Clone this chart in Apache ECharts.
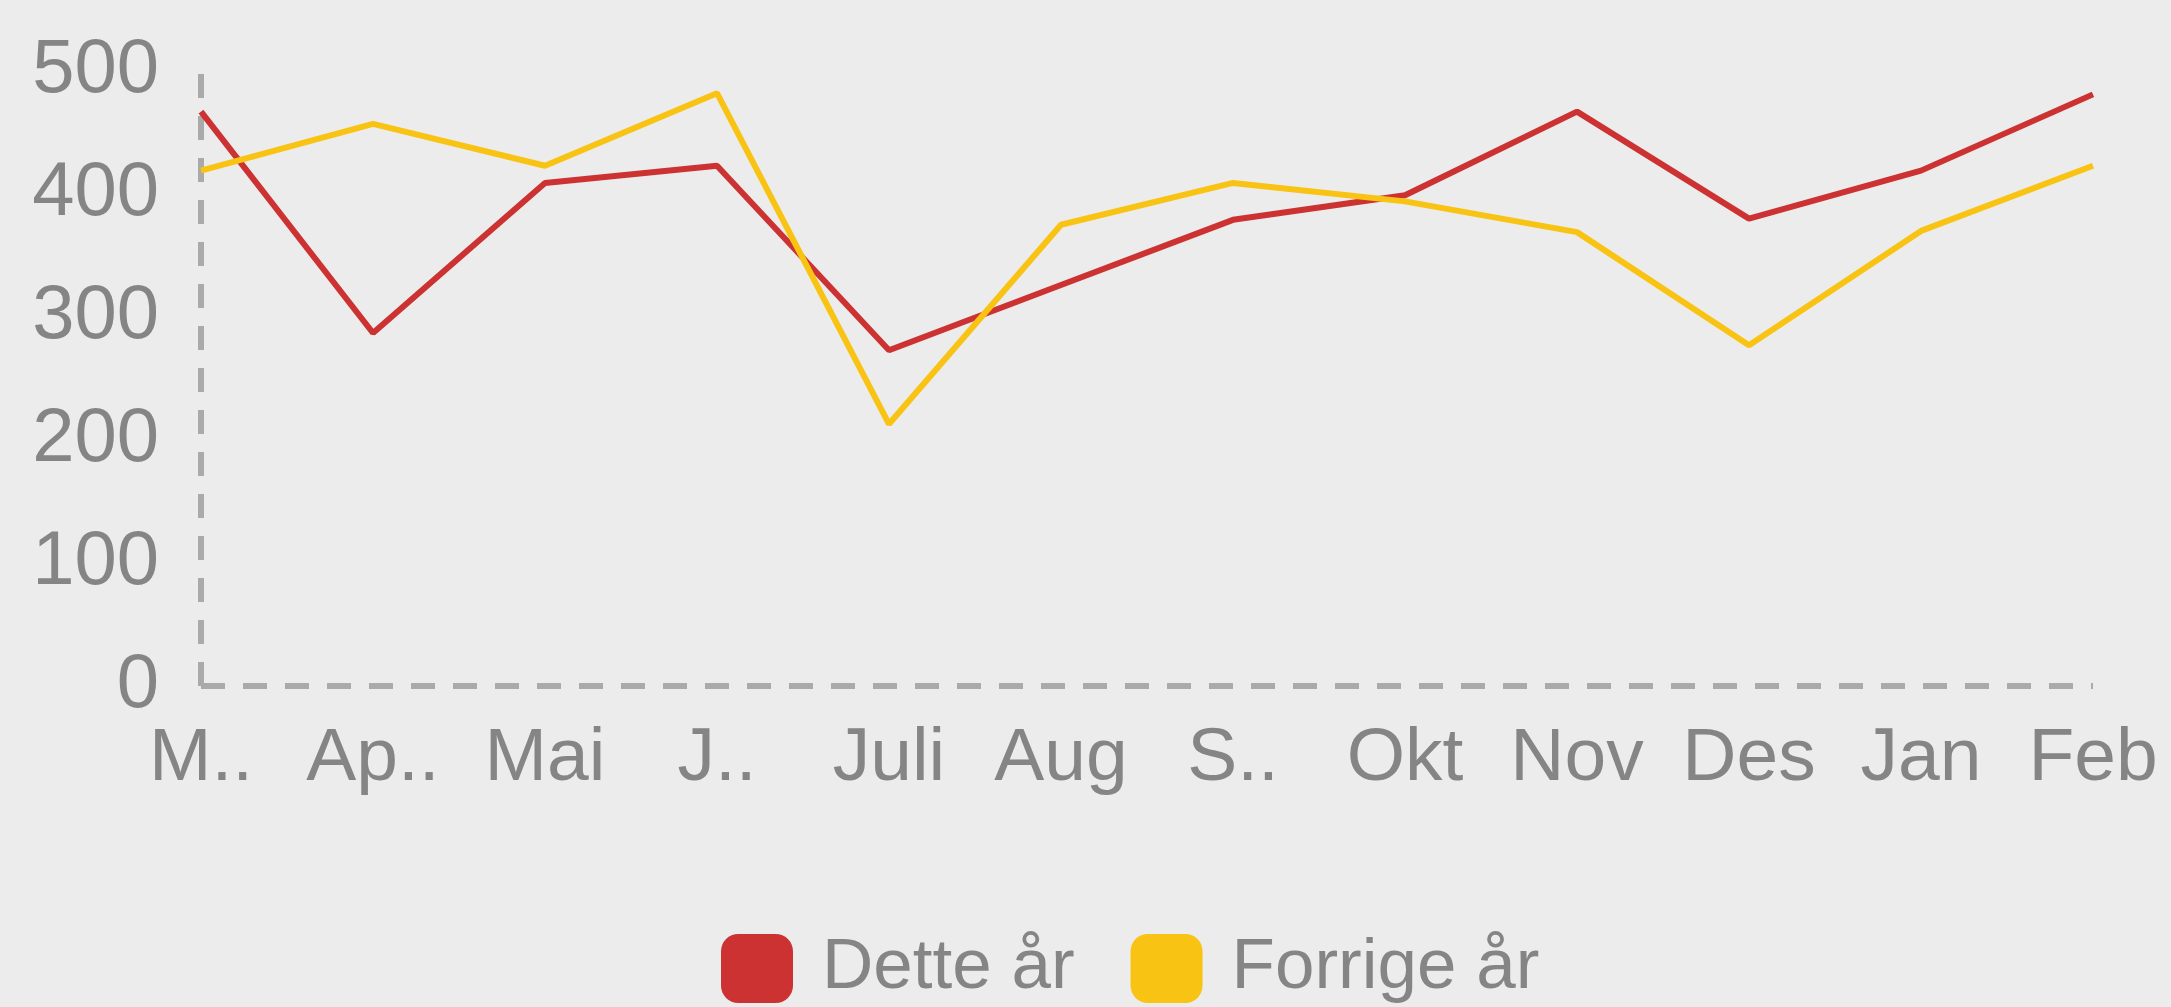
<!DOCTYPE html>
<html>
<head>
<meta charset="utf-8">
<title>Dette år / Forrige år</title>
<style>
    html, body { margin: 0; padding: 0; background: #ececec; }
    #chart { width: 2171px; height: 1007px; }
</style>
<script src="https://cdn.jsdelivr.net/npm/echarts@6.0.0/dist/echarts.min.js"></script>
</head>
<body>
<div id="chart"></div>
<script>
var months     = ['Mars', 'April', 'Mai', 'Juni', 'Juli', 'Aug', 'September', 'Okt', 'Nov', 'Des', 'Jan', 'Feb'];
var tickLabels = ['M..', 'Ap..', 'Mai', 'J..', 'Juli', 'Aug', 'S..', 'Okt', 'Nov', 'Des', 'Jan', 'Feb'];
var thisYear   = [467, 287, 409, 423, 273, 326, 379, 399, 467, 380, 419, 481];
var lastYear   = [419, 457, 423, 482, 213, 375, 409, 394, 369, 277, 370, 423];

var grey = '#858585',
    axisGrey = '#aaaaaa',
    font = 'Liberation Sans, Arial, sans-serif';

var chart = echarts.init(document.getElementById('chart'));

// dashed axis style shared by x and y
var dashed = {
    show: true,
    lineStyle: { color: axisGrey, width: 6, type: [24, 18], cap: 'butt' }
};

var option = {
    backgroundColor: '#ececec',
    animation: false,
    grid: { left: 201, right: 78, top: 71, bottom: 321 },
    legend: {
        left: 716,
        top: 928,
        icon: 'roundRect',
        itemWidth: 72,
        itemHeight: 69,
        itemGap: 56,
        textStyle: { color: grey, fontSize: 71, fontFamily: font, padding: [0, 0, 0, 24] },
        data: ['Dette år', 'Forrige år']
    },
    xAxis: {
        type: 'category',
        boundaryGap: false,
        data: months,
        axisLine: dashed,
        axisTick: { show: false },
        axisLabel: {
            color: grey, fontSize: 75, fontFamily: font, margin: 36, interval: 0,
            formatter: function (v, i) { return tickLabels[i]; }
        },
        splitLine: { show: false }
    },
    yAxis: {
        type: 'value',
        min: 0,
        max: 500,
        interval: 100,
        axisLine: dashed,
        axisTick: { show: false },
        axisLabel: { color: grey, fontSize: 76, fontFamily: font, margin: 42 },
        splitLine: { show: false }
    },
    series: [
        {
            name: 'Dette år',
            type: 'line',
            data: thisYear,
            symbol: 'none',
            color: '#cd3232',
            lineStyle: { width: 6 }
        },
        {
            name: 'Forrige år',
            type: 'line',
            data: lastYear,
            symbol: 'none',
            color: '#f9c314',
            lineStyle: { width: 6 }
        }
    ]
};

chart.setOption(option);
</script>
</body>
</html>
